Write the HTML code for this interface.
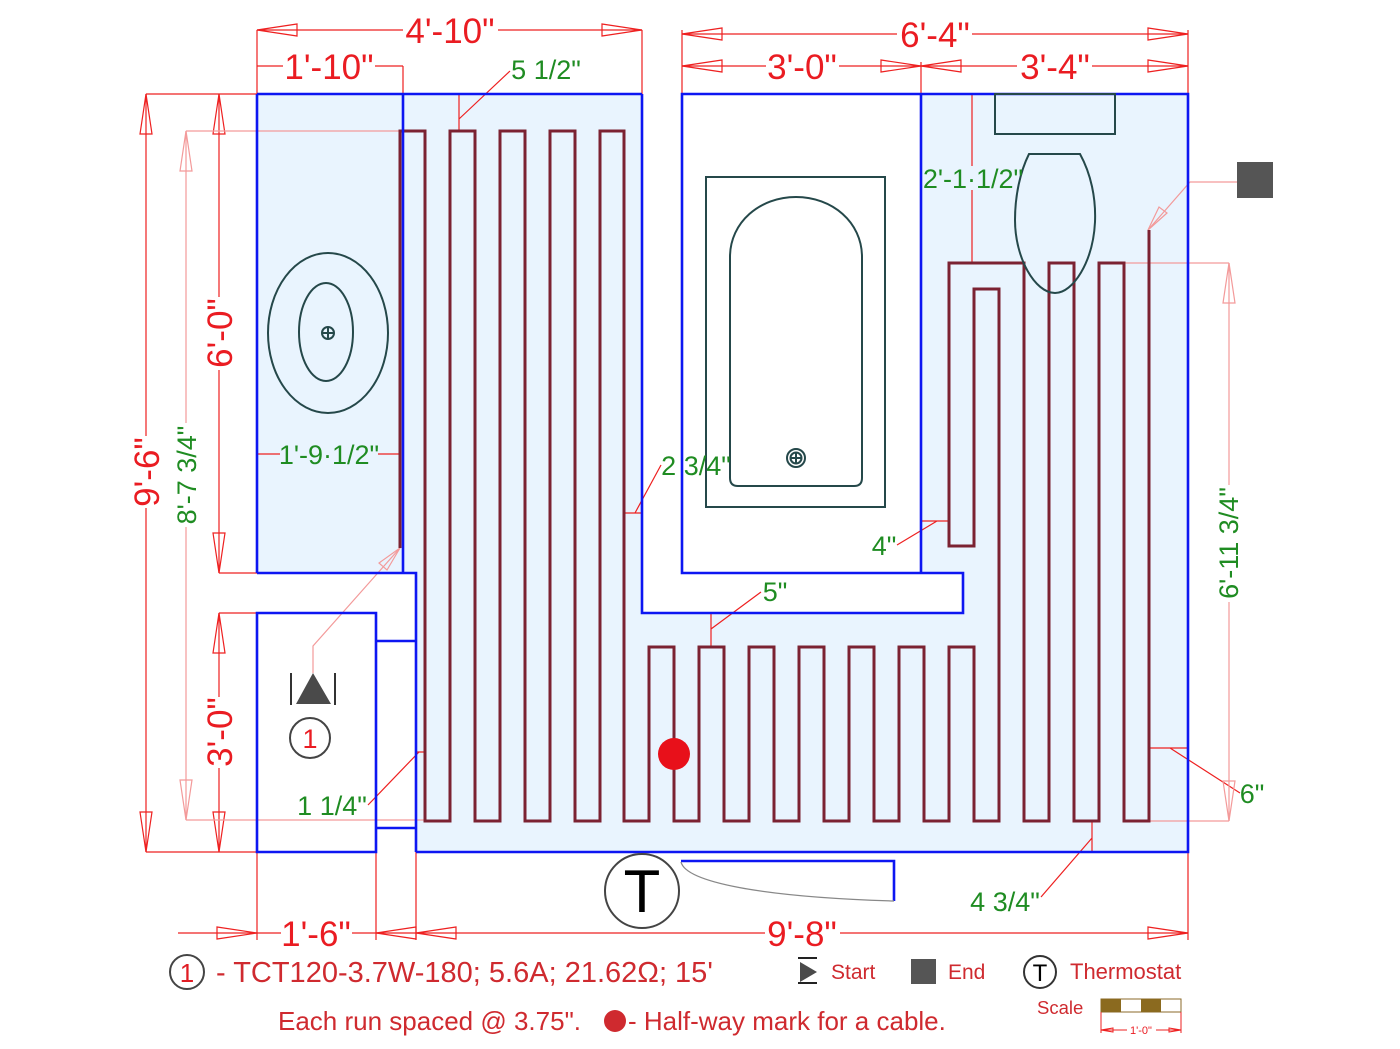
<!DOCTYPE html>
<html><head><meta charset="utf-8"><style>
html,body{margin:0;padding:0;background:#fff;}
svg{display:block;}
text{font-family:"Liberation Sans",Arial,sans-serif;}
.r{fill:#ea1c22;font-size:35px;}
.g{fill:#1f8c22;font-size:27px;}
.lg{fill:#cf2a2f;}
</style></head><body>
<svg width="1400" height="1049" viewBox="0 0 1400 1049" xmlns="http://www.w3.org/2000/svg">
<rect width="1400" height="1049" fill="#fff"/>
<!-- fills -->
<rect x="257" y="94" width="146" height="479" fill="#e9f4fe"/>
<path d="M403,94 H642 V613 H963 V573 H921 V94 H1188 V852 H416 V573 H403 Z" fill="#e9f4fe"/>

<!-- dimension lines bright red -->
<g stroke="#ee2020" stroke-width="1.2" fill="none">
  <!-- top -->
  <path d="M257,30 H403 M498,30 H642 M257,30 V94 M642,30 V94"/>
  <path d="M257,66 H283 M375,66 H403 M403,66 V94"/>
  <path d="M682,34 H897 M972,34 H1188 M682,30 V94 M1188,30 V94"/>
  <path d="M682,66 H766 M839,66 H1017 M1092,66 H1188 M921,62 V94"/>
  <polygon points="257,30 297,24 297,36"/><polygon points="642,30 602,24 602,36"/>
  <polygon points="682,34 722,28 722,40"/><polygon points="1188,34 1148,28 1148,40"/>
  <polygon points="682,66 722,60 722,72"/><polygon points="921,66 881,60 881,72"/>
  <polygon points="921,66 961,60 961,72"/><polygon points="1188,66 1148,60 1148,72"/>
  <!-- left -->
  <path d="M146,94 V436 M146,508 V852 M146,94 H257 M146,852 H257"/>
  <path d="M219,94 V297 M219,370 V573 M219,573 H257"/>
  <path d="M219,613 V697 M219,768 V852 M219,613 H257"/>
  <polygon points="146,94 140,134 152,134"/><polygon points="146,852 140,812 152,812"/>
  <polygon points="219,94 213,134 225,134"/><polygon points="219,573 213,533 225,533"/>
  <polygon points="219,613 213,653 225,653"/><polygon points="219,852 213,812 225,812"/>
  <!-- bottom -->
  <path d="M178,933 H281 M352,933 H765 M840,933 H1188"/>
  <path d="M257,852 V940 M376,852 V940 M416,852 V940 M1188,852 V940"/>
  <polygon points="257,933 217,927 217,939"/><polygon points="376,933 416,927 416,939"/>
  <polygon points="416,933 456,927 456,939"/><polygon points="1188,933 1148,927 1148,939"/>
  <!-- small dims -->
  <path d="M257,454 H280 M378,454 H399"/>
  <path d="M459,94 V131 M459,119 L510,71"/>
  <path d="M972,94 V166 M972,190 V263"/>
  <path d="M623,513 H643 M635,513 L661,465"/>
  <path d="M921,521 H949 M897,545 L937,521"/>
  <path d="M711,613 V646 M711,629 L761,592"/>
  <path d="M416,752 H424 M368,805 L419,752"/>
  <path d="M1149,748 H1188 M1188,740 V756 M1170,748 L1240,793"/>
  <path d="M1092,821 V852 M1041,897 L1092,838"/>
</g>
<!-- pale red dims -->
<g stroke="#f39a9a" stroke-width="1.2" fill="none">
  <path d="M186,131 V423 M186,527 V820 M186,131 H400 M186,820 H424"/>
  <polygon points="186,131 180,171 192,171"/><polygon points="186,820 180,780 192,780"/>
  <path d="M1229,263 V485 M1229,602 V821 M1124,263 H1229 M1149,821 H1229"/>
  <polygon points="1229,263 1223,303 1235,303"/><polygon points="1229,821 1223,781 1235,781"/>
  <path d="M313,673 V646 L400,548"/>
  <polygon points="400,548 387,570 379,563"/>
  <path d="M1148,230 L1190,182 H1237"/>
  <polygon points="1148,230 1167,213 1159,207"/>
</g>

<!-- cable -->
<path d="M400,548 V131 H425 V821 H450 V131 H475 V821 H500 V131 H525 V821 H550 V131 H575 V821 H600 V131 H624 V821 H649 V647 H674 V821 H699 V647 H724 V821 H749 V647 H774 V821 H799 V647 H824 V821 H849 V647 H874 V821 H899 V647 H924 V821 H949 V647 H974 V821 H999 V289 H974 V546 H949 V263 H1024 V821 H1049 V263 H1074 V821 H1099 V263 H1124 V821 H1149 V230" fill="none" stroke="#7b2232" stroke-width="3"/>

<!-- walls -->
<g stroke="#0d16f2" stroke-width="2.6" fill="none">
  <path d="M257,94 H642 M257,94 V573 M403,94 V573 M257,573 H416 V852"/>
  <path d="M257,613 H376 V852 H257 Z"/>
  <path d="M376,641 H416 M376,828 H416"/>
  <path d="M416,852 H1188 V94 H682 V573 H963 V613 H642 V94"/>
  <path d="M921,94 V573"/>
  <path d="M681,861 H894 V901"/>
</g>

<!-- fixtures -->
<g stroke="#25484a" stroke-width="2" fill="none">
  <ellipse cx="328" cy="333" rx="60" ry="80"/>
  <ellipse cx="326" cy="332" rx="27" ry="49"/>
  <circle cx="328" cy="333" r="6"/><path d="M322,333 H334 M328,327 V339"/>
  <rect x="706" y="177" width="179" height="330"/>
  <path d="M730,257 C730,222 760,197 796,197 C832,197 862,222 862,257 V478 Q862,486 854,486 H738 Q730,486 730,478 Z"/>
  <circle cx="796" cy="458" r="9"/><circle cx="796" cy="458" r="5.5"/><path d="M790.5,458 H801.5 M796,452.5 V463.5"/>
  <rect x="995" y="94" width="120" height="40"/>
  <path d="M1029,154 H1080 C1091,174 1096,198 1095,222 C1093,262 1073,293 1055,293 C1035,293 1015,258 1015,220 C1015,196 1020,172 1029,154 Z"/>
</g>
<path d="M681,862 C686,882 760,897 894,901" fill="none" stroke="#888" stroke-width="1.3"/>

<!-- thermostat -->
<circle cx="642" cy="891" r="37" fill="#fff" stroke="#444" stroke-width="2"/>
<text x="642" y="912" text-anchor="middle" font-size="60" fill="#000">T</text>

<!-- red dot -->
<circle cx="674" cy="754" r="16" fill="#e8101a"/>

<!-- end square -->
<rect x="1237" y="162" width="36" height="36" fill="#555"/>

<!-- start symbol -->
<path d="M291,673 V705 M335,673 V705" stroke="#333" stroke-width="2"/>
<polygon points="313,673 296,704 331,704" fill="#4a4a4a"/>
<circle cx="310" cy="738" r="20" fill="#fff" stroke="#444" stroke-width="2"/>
<text x="310" y="748" text-anchor="middle" font-size="27" fill="#ea1c22">1</text>

<!-- dimension texts -->
<text class="r" x="450" y="43" text-anchor="middle">4'-10"</text>
<text class="r" x="329" y="79" text-anchor="middle">1'-10"</text>
<text class="r" x="935" y="47" text-anchor="middle">6'-4"</text>
<text class="r" x="802" y="79" text-anchor="middle">3'-0"</text>
<text class="r" x="1055" y="79" text-anchor="middle">3'-4"</text>
<text class="r" x="316" y="946" text-anchor="middle">1'-6"</text>
<text class="r" x="802" y="946" text-anchor="middle">9'-8"</text>
<text class="r" transform="rotate(-90 146 472)" x="146" y="485" text-anchor="middle">9'-6"</text>
<text class="r" transform="rotate(-90 219 333)" x="219" y="346" text-anchor="middle">6'-0"</text>
<text class="r" transform="rotate(-90 219 732)" x="219" y="745" text-anchor="middle">3'-0"</text>

<text class="g" transform="rotate(-90 186 475)" x="186" y="485" text-anchor="middle">8'-7 3/4"</text>
<text class="g" transform="rotate(-90 1228 543)" x="1228" y="553" text-anchor="middle">6'-11 3/4"</text>
<text class="g" x="546" y="79" text-anchor="middle">5 1/2"</text>
<text class="g" x="329" y="464" text-anchor="middle">1'-9·1/2"</text>
<text class="g" x="973" y="188" text-anchor="middle">2'-1·1/2"</text>
<text class="g" x="696" y="475" text-anchor="middle">2 3/4"</text>
<text class="g" x="884" y="555" text-anchor="middle">4"</text>
<text class="g" x="775" y="601" text-anchor="middle">5"</text>
<text class="g" x="332" y="815" text-anchor="middle">1 1/4"</text>
<text class="g" x="1252" y="803" text-anchor="middle">6"</text>
<text class="g" x="1005" y="911" text-anchor="middle">4 3/4"</text>

<!-- legend -->
<circle cx="187" cy="972" r="17" fill="#fff" stroke="#444" stroke-width="2"/>
<text x="187" y="982" text-anchor="middle" font-size="26" fill="#e01c24">1</text>
<text class="lg" x="216" y="982" font-size="29">- TCT120-3.7W-180; 5.6A; 21.62Ω; 15'</text>
<text class="lg" x="278" y="1030" font-size="26">Each run spaced @ 3.75".</text>
<circle cx="615" cy="1021" r="11" fill="#cf2a2f"/>
<text class="lg" x="628" y="1030" font-size="26">- Half-way mark for a cable.</text>

<path d="M798,958 H817 M798,983 H817" stroke="#222" stroke-width="2"/>
<polygon points="817,972 800,962 800,982" fill="#4a4a4a"/>
<text class="lg" x="831" y="979" font-size="21">Start</text>
<rect x="911" y="959" width="25" height="25" fill="#555"/>
<text class="lg" x="948" y="979" font-size="21">End</text>
<circle cx="1040" cy="972" r="16" fill="#fff" stroke="#333" stroke-width="2"/>
<text x="1040" y="981" text-anchor="middle" font-size="24" fill="#000">T</text>
<text class="lg" x="1070" y="979" font-size="22">Thermostat</text>
<text class="lg" x="1037" y="1014" font-size="18.5">Scale</text>
<rect x="1101" y="999" width="80" height="13" fill="#fff" stroke="#8b6a2a" stroke-width="1"/>
<rect x="1101" y="999" width="20" height="13" fill="#8b6a1f"/>
<rect x="1141" y="999" width="20" height="13" fill="#8b6a1f"/>
<g stroke="#ee2020" stroke-width="1" fill="none">
  <path d="M1101,1012 V1033 M1181,1012 V1033 M1101,1030 H1127 M1156,1030 H1181"/>
  <polygon points="1101,1030 1113,1028 1113,1032"/><polygon points="1181,1030 1169,1028 1169,1032"/>
</g>
<text x="1141" y="1034" text-anchor="middle" font-size="11" fill="#ea1c22">1'-0"</text>
</svg>
</body></html>
